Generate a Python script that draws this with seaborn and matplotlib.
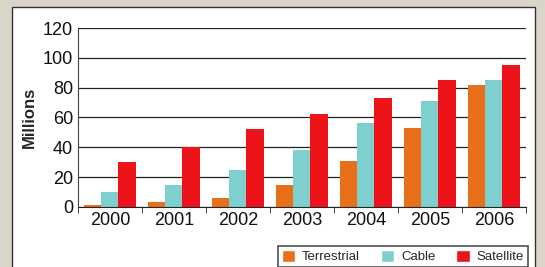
import matplotlib
matplotlib.use("Agg", force=True)
import matplotlib.pyplot as plt
import matplotlib.patches as mpatches
import pandas as pd
import seaborn as sns

YEARS = ["2000", "2001", "2002", "2003", "2004", "2005", "2006"]
TERRESTRIAL = [1, 3, 6, 15, 31, 53, 82]
CABLE = [10, 15, 25, 38, 56, 71, 85]
SATELLITE = [30, 40, 52, 62, 73, 85, 95]
SERIES = ["Terrestrial", "Cable", "Satellite"]
COLORS = ["#e8701a", "#7fcfcf", "#ec1418"]


def main() -> None:
    df = pd.DataFrame({"year": YEARS, "Terrestrial": TERRESTRIAL, "Cable": CABLE, "Satellite": SATELLITE})
    long = df.melt(id_vars="year", value_vars=SERIES, var_name="type", value_name="millions")

    sns.set_style("white")
    plt.rcParams["font.family"] = ["Liberation Sans", "DejaVu Sans"]

    fig = plt.figure(figsize=(5.45, 2.67), dpi=100, facecolor="#d9d6c9")
    panel = mpatches.Rectangle((0.022, -0.01), 0.96, 0.985, transform=fig.transFigure,
                               facecolor="white", edgecolor="#333333", linewidth=1.0, zorder=-10)
    fig.patches.append(panel)
    ax = fig.add_axes([0.143, 0.225, 0.822, 0.67])
    ax.set_facecolor("white")

    sns.barplot(data=long, x="year", y="millions", hue="type", hue_order=SERIES,
                palette=COLORS, width=0.8, ax=ax, legend=False, saturation=1, linewidth=0)

    ax.set_ylim(0, 120)
    ax.set_yticks(range(0, 121, 20))
    ax.yaxis.grid(True, color="#222222", linewidth=0.9)
    ax.set_axisbelow(True)
    for s in ["top", "right"]:
        ax.spines[s].set_visible(False)
    ax.spines["left"].set_color("#444444")
    ax.spines["bottom"].set_color("#222222")
    ax.set_xticks([i + 0.5 for i in range(-1, 7)], minor=True)
    ax.tick_params(axis="x", which="minor", length=4, color="#222222", direction="out", bottom=True)
    ax.tick_params(axis="both", which="major", labelsize=13, colors="#111111", length=0)
    ax.tick_params(axis="x", pad=4)
    ax.set_xlabel("")
    ax.set_ylabel("Millions", fontsize=12, fontweight="bold", labelpad=4)

    handles = [mpatches.Patch(facecolor=c, label=s) for c, s in zip(COLORS, SERIES)]
    leg = fig.legend(handles=handles, ncol=3, loc="lower right", bbox_to_anchor=(0.98, -0.025),
                     fontsize=9.5, frameon=True, fancybox=False, handlelength=1.0, handleheight=1.0,
                     columnspacing=1.6, handletextpad=0.5, borderpad=0.3)
    leg.get_frame().set_edgecolor("#222222")
    leg.get_frame().set_linewidth(1.2)

    fig.savefig("out.png", dpi=100, facecolor=fig.get_facecolor())
    plt.close(fig)


if __name__ == "__main__":
    main()
